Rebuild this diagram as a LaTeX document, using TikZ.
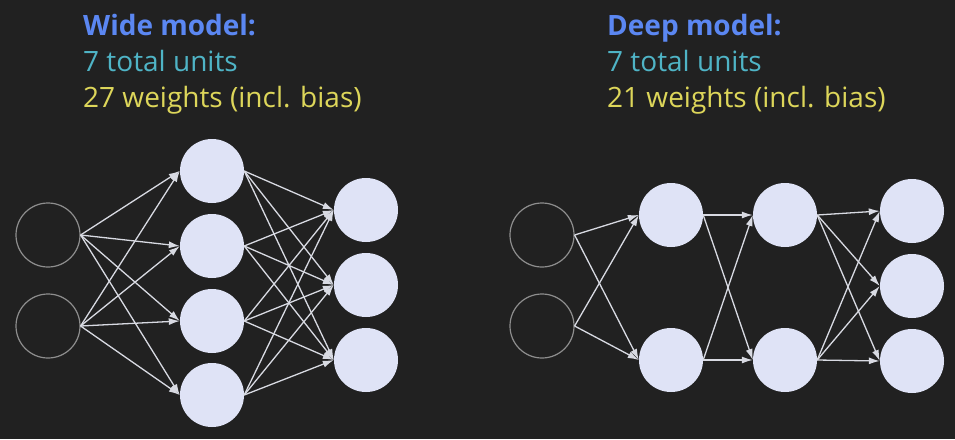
\documentclass[tikz,border=0pt]{standalone}
\usepackage{fontspec}
\setmainfont{Open Sans}
\usepackage{tikz}
\usepackage{xcolor}
\usetikzlibrary{
    arrows.meta,
    calc,
    positioning
}
\definecolor{bgdark}{HTML}{212121}
\definecolor{unitfill}{HTML}{DFE3F6}
\definecolor{inring}{HTML}{8E8E8E}
\definecolor{wirecol}{HTML}{D8DAE2}
\definecolor{titleblue}{HTML}{5B87F2}
\definecolor{unitteal}{HTML}{4FB4C6}
\definecolor{weightyellow}{HTML}{DDD65A}

\tikzset{
    inunit/.style={circle, draw=inring, line width=1.2pt, minimum size=64pt, inner sep=0pt},
    unit/.style={circle, fill=unitfill, minimum size=64pt, inner sep=0pt},
    wire/.style={draw=wirecol, line width=1.3pt, -{Latex[length=11pt,width=7pt,fill=wirecol]}},
    caption/.style={anchor=base west, inner sep=0pt, font=\fontsize{28}{30}\selectfont},
    headline/.style={caption, text=titleblue, font=\fontsize{28}{30}\selectfont\bfseries}
}

\begin{document}
\begin{tikzpicture}[x=1pt, y=-1pt]
                                \fill[bgdark] (0,0) rectangle (955,439);
                                \useasboundingbox (0,0) rectangle (955,439);
                                % wide model
                                \node[headline] (wtitle) at (83,35) {Wide model:};
                                \node[caption, text=unitteal] (wunits) at (83,71) {7 total units};
                                \node[caption, text=weightyellow] (wweights) at (83,107) {27 weights (incl. bias)};
                                \node[inunit] (wi1) at (48,235) {};
                                \node[inunit] (wi2) at (48,326) {};
                                \node[unit] (wh1) at (212,171) {};
                                \node[unit] (wh2) at (212,246) {};
                                \node[unit] (wh3) at (212,321) {};
                                \node[unit] (wh4) at (212,395) {};
                                \node[unit] (wo1) at (366,210) {};
                                \node[unit] (wo2) at (366,285) {};
                                \node[unit] (wo3) at (366,360) {};
                                \foreach \i in {1,2}
                                    \foreach \h in {1,...,4}
                                        \draw[wire] (wi\i.east) -- (wh\h.west);
                                \foreach \h in {1,...,4}
                                    \foreach \o in {1,2,3}
                                        \draw[wire] (wh\h.east) -- (wo\o.west);
                                % deep model
                                \node[headline] (dtitle) at (607,35) {Deep model:};
                                \node[caption, text=unitteal] (dunits) at (607,71) {7 total units};
                                \node[caption, text=weightyellow] (dweights) at (607,107) {21 weights (incl. bias)};
                                \node[inunit] (di1) at (542,235) {};
                                \node[inunit] (di2) at (542,326) {};
                                \node[unit] (da1) at (671,215) {};
                                \node[unit] (da2) at (671,360) {};
                                \node[unit] (db1) at (785,215) {};
                                \node[unit] (db2) at (785,360) {};
                                \node[unit] (do1) at (912,211) {};
                                \node[unit] (do2) at (912,286) {};
                                \node[unit] (do3) at (912,361) {};
                                \foreach \i in {1,2}
                                    \foreach \h in {1,2}
                                        \draw[wire] (di\i.east) -- (da\h.west);
                                \foreach \i in {1,2}
                                    \foreach \h in {1,2}
                                        \draw[wire] (da\i.east) -- (db\h.west);
                                \foreach \i in {1,2}
                                    \foreach \o in {1,2,3}
                                        \draw[wire] (db\i.east) -- (do\o.west);
\end{tikzpicture}
\end{document}
